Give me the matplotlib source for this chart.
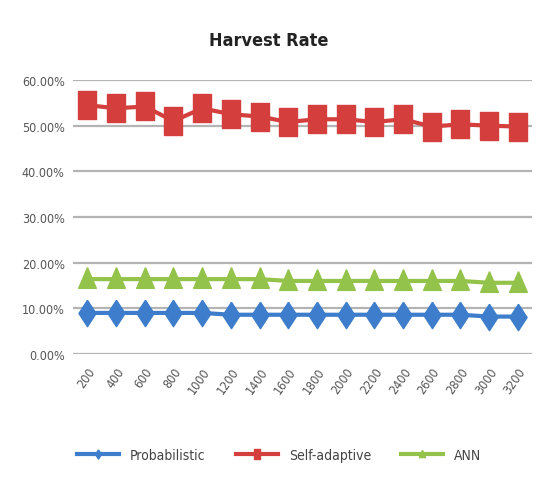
import numpy as np
import matplotlib.pyplot as plt
from matplotlib.ticker import FuncFormatter

categories = ["200", "400", "600", "800", "1000", "1200", "1400", "1600",
              "1800", "2000", "2200", "2400", "2600", "2800", "3000", "3200"]
probabilistic = [9.0, 9.0, 9.0, 9.0, 9.0, 8.6, 8.6, 8.6, 8.6, 8.6, 8.6, 8.6, 8.6, 8.6, 8.2, 8.2]
self_adaptive = [54.5, 53.8, 54.2, 51.0, 53.8, 52.5, 52.0, 50.8, 51.4, 51.4, 50.8, 51.4, 49.8, 50.3, 50.0, 49.8]
ann = [16.4, 16.4, 16.4, 16.4, 16.4, 16.4, 16.4, 16.0, 16.0, 16.0, 16.0, 16.0, 16.0, 16.0, 15.6, 15.6]
yticks = [0, 10, 20, 30, 40, 50, 60]

# tall markers, the original image is squeezed horizontally
tall_square = [(-0.62, -1), (0.62, -1), (0.62, 1), (-0.62, 1), (-0.62, -1)]
tall_diamond = [(0, 1), (0.65, 0), (0, -1), (-0.65, 0), (0, 1)]
tall_triangle = [(0, 1), (0.75, -0.75), (-0.75, -0.75), (0, 1)]


def main():
    fig = plt.figure(figsize=(5.37, 4.85), dpi=100)
    ax = fig.add_axes([0.136, 0.268, 0.855, 0.565])
    x = np.arange(len(categories))

    ax.plot(x, probabilistic, color="#3d7dcc", lw=3, marker=tall_diamond, ms=19, label="Probabilistic")
    ax.plot(x, self_adaptive, color="#d43e3c", lw=3, marker=tall_square, ms=20, label="Self-adaptive")
    ax.plot(x, ann, color="#93c34a", lw=3, marker=tall_triangle, ms=17, label="ANN")

    ax.set_ylim(0, 60)
    ax.set_xlim(-0.5, len(categories) - 0.5)
    ax.set_yticks(yticks)
    ax.yaxis.set_major_formatter(FuncFormatter(lambda v, p: f"{v:.2f}%"))
    ax.set_xticks(x)
    ax.set_xticklabels(categories, rotation=55, ha="right", rotation_mode="anchor")
    ax.grid(axis="y", color="#b4b4b4", lw=1.6)
    ax.set_axisbelow(True)
    for s in ax.spines.values():
        s.set_visible(False)
    ax.tick_params(length=0, labelsize=9, colors="#555555", pad=6)
    ax.tick_params(axis="x", pad=8)
    for t in ax.get_xticklabels() + ax.get_yticklabels():
        t.set_fontstretch("condensed")

    fig.suptitle("Harvest Rate", y=0.935, fontsize=13, fontweight="bold", color="#222222",
                 fontstretch="condensed")
    leg = fig.legend(loc="center", bbox_to_anchor=(0.52, 0.06), ncol=3, frameon=False,
                     fontsize=10, handlelength=3, markerscale=0.35, columnspacing=2.2)
    for t in leg.get_texts():
        t.set_color("#444444")
        t.set_fontstretch("condensed")

    plt.savefig("out.png", dpi=100)


if __name__ == "__main__":
    main()
